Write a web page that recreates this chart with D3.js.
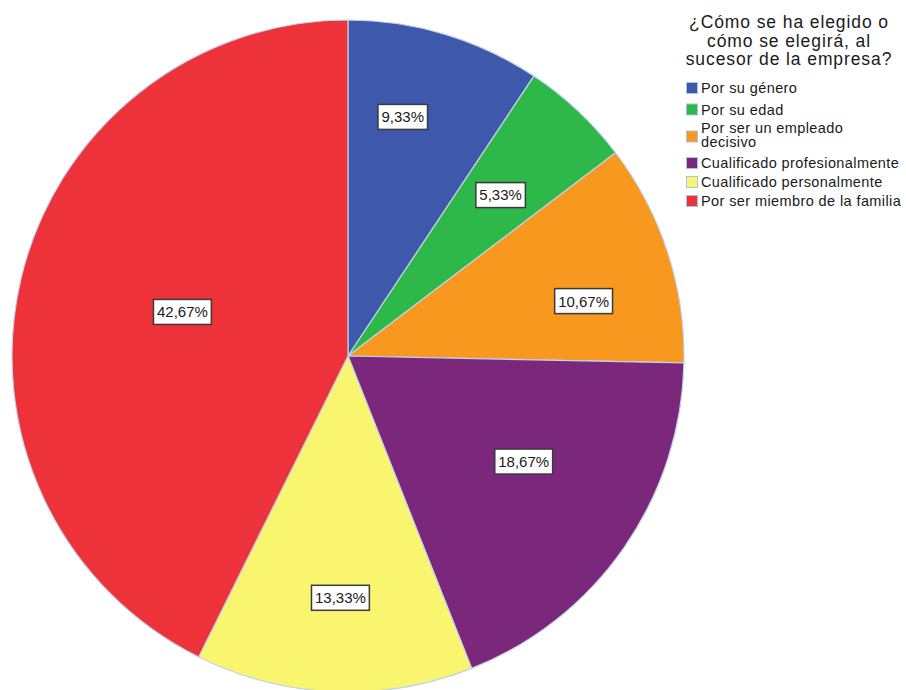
<!DOCTYPE html>
<html>
<head>
<meta charset="utf-8">
<script src="https://cdn.jsdelivr.net/npm/d3@7/dist/d3.min.js"></script>
<style>
  html, body { margin: 0; padding: 0; background: #ffffff; }
  svg { display: block; }
  text { font-family: "Liberation Sans", Arial, sans-serif; fill: #1a1a1a; }
</style>
</head>
<body>
<div id="chart"></div>
<script>
// Survey answers: how the company successor was / will be chosen
const categories = [
  "Por su género",
  "Por su edad",
  "Por ser un empleado decisivo",
  "Cualificado profesionalmente",
  "Cualificado personalmente",
  "Por ser miembro de la familia"
];
// Legend text broken into lines
const legendLines = [
  ["Por su género"],
  ["Por su edad"],
  ["Por ser un empleado", "decisivo"],
  ["Cualificado profesionalmente"],
  ["Cualificado personalmente"],
  ["Por ser miembro de la familia"]
];
const percentages = [9.33, 5.33, 10.67, 18.67, 13.33, 42.67];
const colors = ["#3E58AC", "#2EB84A", "#F8981E", "#7B287C", "#F9F56F", "#EE3239"];
const titleLines = ["¿Cómo se ha elegido o", "cómo se elegirá, al", "sucesor de la empresa?"];

const width = 906, height = 690;
const cx = 348, cy = 356, radius = 336;

// Label placement: fraction of the radius, and angular nudge (degrees) from the slice middle
const labelRadius = [0.73, 0.66, 0.72, 0.61, 0.72, 0.51];
const labelNudge = [-3.9, 0.3, 4.9, -3.8, -0.6, 1.7];

const svg = d3.select("#chart").append("svg")
  .attr("width", width).attr("height", height);

const pie = d3.pie().sort(null).value(d => d);
const arcs = pie(percentages);
const arc = d3.arc().innerRadius(0).outerRadius(radius);

const g = svg.append("g").attr("transform", `translate(${cx},${cy})`);

g.selectAll("path.slice")
  .data(arcs)
  .join("path")
  .attr("class", "slice")
  .attr("d", arc)
  .attr("fill", (d, i) => colors[i])
  .attr("stroke", "#bfd3ea")
  .attr("stroke-width", 1.2)
  .attr("stroke-linejoin", "round");

const fmt = v => d3.format(".2f")(v).replace(".", ",") + "%";

const labels = g.selectAll("g.lbl")
  .data(arcs)
  .join("g")
  .attr("class", "lbl")
  .attr("transform", (d, i) => {
    const a = (d.startAngle + d.endAngle) / 2 + labelNudge[i] * Math.PI / 180;
    const r = radius * labelRadius[i];
    return `translate(${r * Math.sin(a)},${-r * Math.cos(a)})`;
  });

labels.append("text")
  .attr("text-anchor", "middle")
  .attr("dy", "0.36em")
  .style("font-size", "15px")
  .text(d => fmt(d.data));

labels.each(function () {
  const grp = d3.select(this);
  const bb = grp.select("text").node().getBBox();
  grp.insert("rect", "text")
    .attr("x", bb.x - 3.5)
    .attr("y", -12.5)
    .attr("width", bb.width + 7)
    .attr("height", 25)
    .attr("fill", "#ffffff")
    .attr("stroke", "#3a3a3a")
    .attr("stroke-width", 1.5);
});

// Legend title
const title = svg.append("text")
  .attr("x", 789)
  .attr("text-anchor", "middle")
  .style("font-size", "17.5px")
  .style("letter-spacing", "0.9px");
titleLines.forEach((t, i) => {
  title.append("tspan").attr("x", 789).attr("y", 28 + i * 18.5).text(t);
});

// Legend entries
const itemTops = [82, 103.5, 130.5, 157, 176, 195];
const legend = svg.append("g");
legendLines.forEach((lines, i) => {
  const top = itemTops[i];
  legend.append("rect")
    .attr("x", 686.5).attr("y", top + 0.5)
    .attr("width", 11).attr("height", 11)
    .attr("fill", colors[i])
    .attr("stroke", "#a8c3e3")
    .attr("stroke-width", 1);
  const t = legend.append("text")
    .style("font-size", "14.5px")
    .style("letter-spacing", "0.4px");
  const base = lines.length === 1 ? top + 11 : top + 2;
  lines.forEach((ln, j) => {
    t.append("tspan").attr("x", 701).attr("y", base + j * 14.5).text(ln);
  });
});
</script>
</body>
</html>
